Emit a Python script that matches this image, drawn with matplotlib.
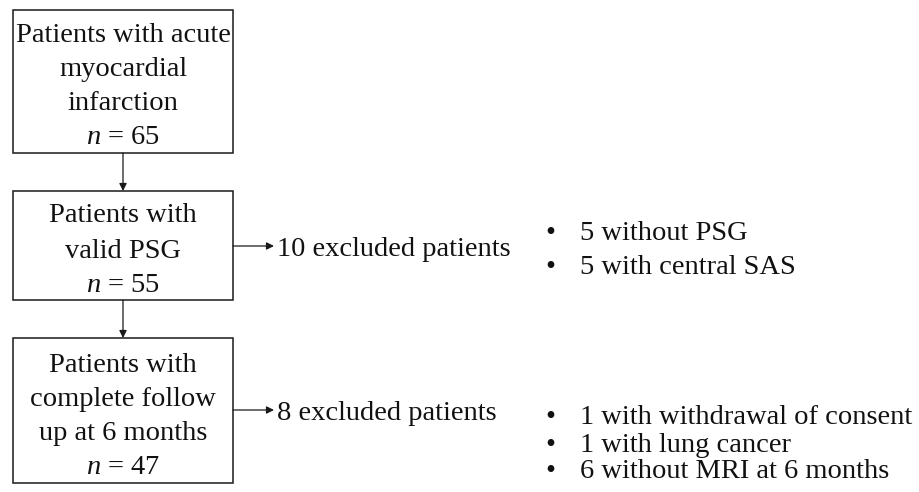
import matplotlib
matplotlib.use("Agg")
import matplotlib.pyplot as plt
from matplotlib.patches import Rectangle

plt.rcParams['font.family'] = ['Liberation Serif', 'DejaVu Serif']
plt.rcParams['mathtext.fontset'] = 'custom'
plt.rcParams['mathtext.it'] = 'Liberation Serif:italic'
plt.rcParams['mathtext.rm'] = 'Liberation Serif'

# Data
box_lines = [
    ["Patients with acute", "myocardial", "infarction", "$n$ = 65"],
    ["Patients with", "valid PSG", "$n$ = 55"],
    ["Patients with", "complete follow", "up at 6 months", "$n$ = 47"],
]
excluded_labels = ["10 excluded patients", "8 excluded patients"]
excluded_reasons = [
    ["5 without PSG", "5 with central SAS"],
    ["1 with withdrawal of consent", "1 with lung cancer", "6 without MRI at 6 months"],
]

# Layout (pixels)
W, H = 920, 492
fig = plt.figure(figsize=(W / 100, H / 100), dpi=100)
ax = fig.add_axes([0, 0, 1, 1])
ax.set_xlim(0, W)
ax.set_ylim(H, 0)
ax.axis('off')

dy = 3  # vertical offset so text centres land on the reference line centres
box_x0, box_x1 = 13, 233
box_y = [(10, 153), (191, 300), (338, 483)]
line_y = [[33, 67, 100, 134], [213, 248, 282], [362, 396, 430, 465]]
fs = 20.5
tc = '#111111'

for (y0, y1), lines, ys in zip(box_y, box_lines, line_y):
    ax.add_patch(Rectangle((box_x0, y0), box_x1 - box_x0, y1 - y0,
                           fill=False, ec='#1a1a1a', lw=1.1))
    for t, y in zip(lines, ys):
        ax.text((box_x0 + box_x1) / 2, y + dy, t, ha='center', va='center',
                fontsize=fs, color=tc)

cx = (box_x0 + box_x1) / 2
arrow_kw = dict(arrowstyle='-|>', lw=0.9, color='#1a1a1a', mutation_scale=11,
                shrinkA=0, shrinkB=0)
for i in range(2):
    ax.annotate('', xy=(cx, box_y[i + 1][0]), xytext=(cx, box_y[i][1]),
                arrowprops=arrow_kw)

side_y = [246, 410]
for lab, y in zip(excluded_labels, side_y):
    ax.annotate('', xy=(274, y), xytext=(box_x1, y), arrowprops=arrow_kw)
    ax.text(277, y + dy, lab, ha='left', va='center', fontsize=fs, color=tc)

reason_y = [[230, 265], [415, 442, 468]]
for reasons, ys in zip(excluded_reasons, reason_y):
    for t, y in zip(reasons, ys):
        ax.text(550, y + dy, "•", ha='center', va='center', fontsize=fs, color=tc)
        ax.text(580, y + dy, t, ha='left', va='center', fontsize=fs, color=tc)

fig.savefig("out.png", dpi=100)
